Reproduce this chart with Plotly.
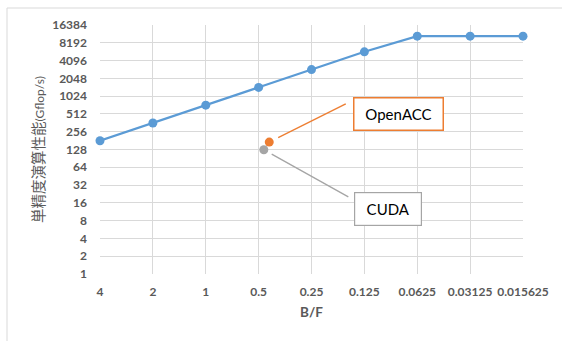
import plotly.graph_objects as go
import math

bf = [4, 2, 1, 0.5, 0.25, 0.125, 0.0625, 0.03125, 0.015625]
bf_labels = ["4", "2", "1", "0.5", "0.25", "0.125", "0.0625", "0.03125", "0.015625"]
perf = [180, 360, 720, 1440, 2880, 5760, 10600, 10600, 10600]

openacc_bf = [0.435]
openacc_perf = [171]
cuda_bf = [0.467]
cuda_perf = [127]

y_ticks = [2 ** i for i in range(15)]

font_fam = "Lato, 'Noto Sans CJK JP', sans-serif"
gray = "#595959"

fig = go.Figure()
fig.add_trace(go.Scatter(x=bf, y=perf, mode="lines+markers",
                         line=dict(color="#5B9BD5", width=2.2),
                         marker=dict(color="#5B9BD5", size=9),
                         showlegend=False, cliponaxis=False))
fig.add_trace(go.Scatter(x=openacc_bf, y=openacc_perf, mode="markers",
                         marker=dict(color="#ED7D31", size=9),
                         showlegend=False))
fig.add_trace(go.Scatter(x=cuda_bf, y=cuda_perf, mode="markers",
                         marker=dict(color="#A5A5A5", size=9),
                         showlegend=False))

# leader lines
fig.add_annotation(x=math.log10(openacc_bf[0]), y=math.log10(openacc_perf[0]),
                   text="", showarrow=True, arrowhead=0, arrowwidth=1.3,
                   arrowcolor="#ED7D31", ax=78, ay=-39, standoff=10)
fig.add_annotation(x=math.log10(cuda_bf[0]), y=math.log10(cuda_perf[0]),
                   text="", showarrow=True, arrowhead=0, arrowwidth=1.3,
                   arrowcolor="#A5A5A5", ax=86, ay=48, standoff=9)
# label boxes
fig.add_annotation(x=math.log10(openacc_bf[0]), y=math.log10(openacc_perf[0]),
                   text="OpenACC", showarrow=False, xshift=129, yshift=28.5,
                   font=dict(family=font_fam, size=15, color="#000000"),
                   bordercolor="#ED7D31", borderwidth=1.5, bgcolor="white",
                   width=86, height=29)
fig.add_annotation(x=math.log10(cuda_bf[0]), y=math.log10(cuda_perf[0]),
                   text="CUDA", showarrow=False, xshift=124.5, yshift=-59,
                   font=dict(family=font_fam, size=15, color="#000000"),
                   bordercolor="#A5A5A5", borderwidth=1.2, bgcolor="white",
                   width=64, height=30)

# outer chart border
fig.add_shape(type="rect", xref="paper", yref="paper",
              x0=-93 / 423, x1=1.2, y0=-0.3, y1=1 + 17 / 249,
              line=dict(color="#D9D9D9", width=1), layer="below")

fig.update_xaxes(type="log", range=[math.log10(4), math.log10(0.015625)],
                 tickvals=bf, ticktext=bf_labels, showgrid=True,
                 gridcolor="#D9D9D9", gridwidth=1, zeroline=False,
                 showline=False, ticks="", ticklabelstandoff=9,
                 tickfont=dict(family=font_fam, size=12, color=gray, weight="bold"),
                 title=dict(text="B/F", standoff=9,
                            font=dict(family=font_fam, size=13.5, color=gray,
                                      weight="bold")))
fig.update_yaxes(type="log", range=[0, math.log10(16384)],
                 tickvals=y_ticks, ticktext=[str(v) for v in y_ticks],
                 showgrid=True, gridcolor="#D9D9D9", gridwidth=1,
                 zeroline=False, showline=False, ticks="",
                 ticklabelstandoff=12,
                 tickfont=dict(family=font_fam, size=12, color=gray, weight="bold"),
                 title=dict(text="<span style='font-size:14.5px;font-family:\"Noto Sans CJK JP\"'>単精度演算性能</span>(Gflop/s)",
                            standoff=4,
                            font=dict(family=font_fam, size=12, color=gray,
                                      weight="normal")))

fig.update_layout(width=562, height=341,
                  margin=dict(l=100, r=39, t=25, b=67),
                  plot_bgcolor="white", paper_bgcolor="white",
                  showlegend=False)

fig.write_html("out.html")
